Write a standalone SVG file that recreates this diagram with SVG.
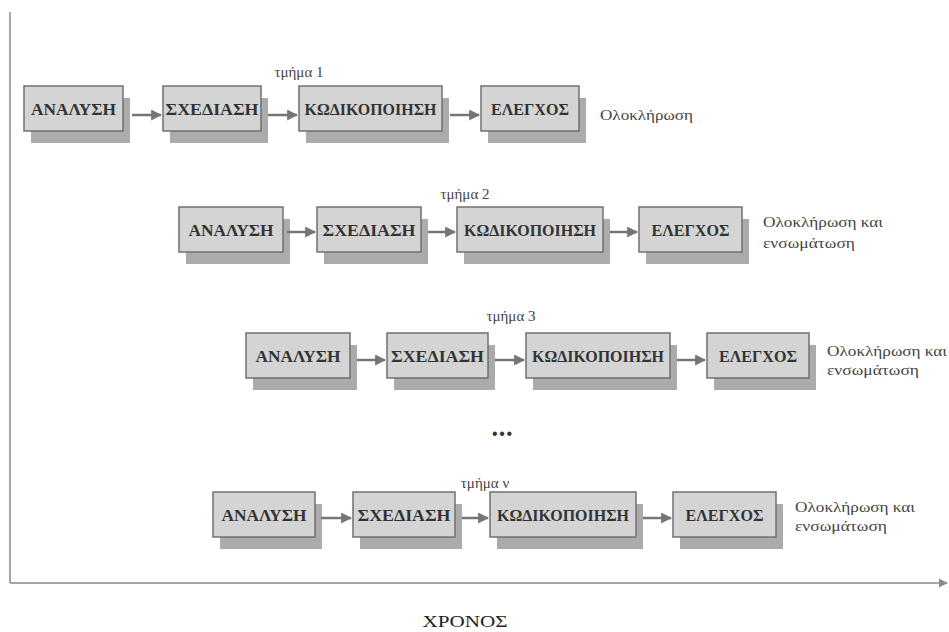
<svg xmlns="http://www.w3.org/2000/svg" width="949" height="632" viewBox="0 0 949 632">
  <style>
    .shadow { fill: #ababab; }
    .box { fill: #d4d4d4; stroke: #707070; stroke-width: 1.5; }
    .lbl { font-family: "Liberation Serif", "Times New Roman", serif; font-weight: bold; font-size: 16px; fill: #333; text-anchor: middle; }
    .note { font-family: "Liberation Serif", "Times New Roman", serif; font-size: 15px; fill: #444; }
    .part { font-family: "Liberation Serif", "Times New Roman", serif; font-size: 15px; fill: #444; text-anchor: middle; }
    .arrow { stroke: #757575; stroke-width: 2.5; fill: none; marker-end: url(#head); }
    .axis { stroke: #8a8a8a; stroke-width: 1.5; fill: none; }
  </style>
  <defs>
    <marker id="head" viewBox="0 0 10 10" refX="9" refY="5" markerWidth="4.4" markerHeight="4.4" orient="auto" markerUnits="strokeWidth">
      <path d="M0,0 L10,5 L0,10 z" fill="#757575"/>
    </marker>
    <marker id="axhead" viewBox="0 0 10 10" refX="9" refY="5" markerWidth="6" markerHeight="6" orient="auto" markerUnits="strokeWidth">
      <path d="M0,0 L10,5 L0,10 z" fill="#8a8a8a"/>
    </marker>
  </defs>

  <rect width="949" height="632" fill="#ffffff"/>

  <!-- time axes -->
  <g id="axes">
    <line class="axis" x1="10" y1="12" x2="10" y2="583"/>
    <line class="axis" x1="10" y1="583" x2="947" y2="583" marker-end="url(#axhead)"/>
    <text x="465" y="627" font-family="Liberation Serif, Times New Roman, serif" font-size="17" fill="#222" text-anchor="middle" textLength="85" lengthAdjust="spacingAndGlyphs">ΧΡΟΝΟΣ</text>
  </g>

  <!-- part 1 -->
  <g id="part1">
    <text class="part" x="299" y="77">τμήμα 1</text>
    <g id="p1-analysis">
      <rect class="shadow" x="31" y="98" width="99" height="45"/>
      <rect class="box" x="24" y="86" width="99" height="45"/>
      <text class="lbl" x="73.5" y="115" textLength="85" lengthAdjust="spacingAndGlyphs">ΑΝΑΛΥΣΗ</text>
    </g>
    <g id="p1-design">
      <rect class="shadow" x="170" y="98" width="98" height="45"/>
      <rect class="box" x="163" y="86" width="98" height="45"/>
      <text class="lbl" x="212" y="115" textLength="93" lengthAdjust="spacingAndGlyphs">ΣΧΕΔΙΑΣΗ</text>
    </g>
    <g id="p1-coding">
      <rect class="shadow" x="306" y="98" width="143" height="45"/>
      <rect class="box" x="299" y="86" width="143" height="45"/>
      <text class="lbl" x="370.5" y="115" textLength="132" lengthAdjust="spacingAndGlyphs">ΚΩΔΙΚΟΠΟΙΗΣΗ</text>
    </g>
    <g id="p1-testing">
      <rect class="shadow" x="488" y="98" width="98" height="45"/>
      <rect class="box" x="481" y="86" width="98" height="45"/>
      <text class="lbl" x="530" y="115" textLength="78" lengthAdjust="spacingAndGlyphs">ΕΛΕΓΧΟΣ</text>
    </g>
    <text class="note" x="600" y="120" textLength="93" lengthAdjust="spacingAndGlyphs">Ολοκλήρωση</text>
  </g>

  <!-- part 2 -->
  <g id="part2">
    <text class="part" x="465" y="199">τμήμα 2</text>
    <g id="p2-analysis">
      <rect class="shadow" x="186" y="219" width="104" height="45"/>
      <rect class="box" x="179" y="207" width="104" height="45"/>
      <text class="lbl" x="231" y="236" textLength="85" lengthAdjust="spacingAndGlyphs">ΑΝΑΛΥΣΗ</text>
    </g>
    <g id="p2-design">
      <rect class="shadow" x="324" y="219" width="104" height="45"/>
      <rect class="box" x="317" y="207" width="104" height="45"/>
      <text class="lbl" x="369" y="236" textLength="93" lengthAdjust="spacingAndGlyphs">ΣΧΕΔΙΑΣΗ</text>
    </g>
    <g id="p2-coding">
      <rect class="shadow" x="464" y="219" width="146" height="45"/>
      <rect class="box" x="457" y="207" width="146" height="45"/>
      <text class="lbl" x="530" y="236" textLength="132" lengthAdjust="spacingAndGlyphs">ΚΩΔΙΚΟΠΟΙΗΣΗ</text>
    </g>
    <g id="p2-testing">
      <rect class="shadow" x="646" y="219" width="103" height="45"/>
      <rect class="box" x="639" y="207" width="103" height="45"/>
      <text class="lbl" x="690.5" y="236" textLength="78" lengthAdjust="spacingAndGlyphs">ΕΛΕΓΧΟΣ</text>
    </g>
    <text class="note" x="763" y="227" textLength="120" lengthAdjust="spacingAndGlyphs">Ολοκλήρωση και</text>
    <text class="note" x="763" y="248" textLength="92" lengthAdjust="spacingAndGlyphs">ενσωμάτωση</text>
  </g>

  <!-- part 3 -->
  <g id="part3">
    <text class="part" x="511" y="321">τμήμα 3</text>
    <g id="p3-analysis">
      <rect class="shadow" x="253" y="345" width="104" height="45"/>
      <rect class="box" x="246" y="333" width="104" height="45"/>
      <text class="lbl" x="298" y="362" textLength="85" lengthAdjust="spacingAndGlyphs">ΑΝΑΛΥΣΗ</text>
    </g>
    <g id="p3-design">
      <rect class="shadow" x="394" y="345" width="101" height="45"/>
      <rect class="box" x="387" y="333" width="101" height="45"/>
      <text class="lbl" x="437.5" y="362" textLength="93" lengthAdjust="spacingAndGlyphs">ΣΧΕΔΙΑΣΗ</text>
    </g>
    <g id="p3-coding">
      <rect class="shadow" x="533" y="345" width="144" height="45"/>
      <rect class="box" x="526" y="333" width="144" height="45"/>
      <text class="lbl" x="598" y="362" textLength="132" lengthAdjust="spacingAndGlyphs">ΚΩΔΙΚΟΠΟΙΗΣΗ</text>
    </g>
    <g id="p3-testing">
      <rect class="shadow" x="714" y="345" width="102" height="45"/>
      <rect class="box" x="707" y="333" width="102" height="45"/>
      <text class="lbl" x="758" y="362" textLength="78" lengthAdjust="spacingAndGlyphs">ΕΛΕΓΧΟΣ</text>
    </g>
    <text class="note" x="827" y="356" textLength="120" lengthAdjust="spacingAndGlyphs">Ολοκλήρωση και</text>
    <text class="note" x="827" y="375" textLength="92" lengthAdjust="spacingAndGlyphs">ενσωμάτωση</text>
  </g>

  <text id="ellipsis" x="502" y="439" font-family="Liberation Sans, Arial, sans-serif" font-size="16" fill="#333" text-anchor="middle" textLength="20" lengthAdjust="spacing">•••</text>

  <!-- part n -->
  <g id="partN">
    <text class="part" x="485" y="488">τμήμα ν</text>
    <g id="pN-analysis">
      <rect class="shadow" x="220" y="504" width="102" height="45"/>
      <rect class="box" x="213" y="492" width="102" height="45"/>
      <text class="lbl" x="264" y="521" textLength="85" lengthAdjust="spacingAndGlyphs">ΑΝΑΛΥΣΗ</text>
    </g>
    <g id="pN-design">
      <rect class="shadow" x="360" y="504" width="102" height="45"/>
      <rect class="box" x="353" y="492" width="102" height="45"/>
      <text class="lbl" x="404" y="521" textLength="93" lengthAdjust="spacingAndGlyphs">ΣΧΕΔΙΑΣΗ</text>
    </g>
    <g id="pN-coding">
      <rect class="shadow" x="497" y="504" width="146" height="45"/>
      <rect class="box" x="490" y="492" width="146" height="45"/>
      <text class="lbl" x="563" y="521" textLength="132" lengthAdjust="spacingAndGlyphs">ΚΩΔΙΚΟΠΟΙΗΣΗ</text>
    </g>
    <g id="pN-testing">
      <rect class="shadow" x="680" y="504" width="103" height="45"/>
      <rect class="box" x="673" y="492" width="103" height="45"/>
      <text class="lbl" x="724.5" y="521" textLength="78" lengthAdjust="spacingAndGlyphs">ΕΛΕΓΧΟΣ</text>
    </g>
    <text class="note" x="795" y="512" textLength="120" lengthAdjust="spacingAndGlyphs">Ολοκλήρωση και</text>
    <text class="note" x="795" y="531" textLength="92" lengthAdjust="spacingAndGlyphs">ενσωμάτωση</text>
  </g>

  <!-- connectors -->
  <g id="connectors">
    <line class="arrow" x1="132" y1="115" x2="161" y2="115"/>
    <line class="arrow" x1="268" y1="115" x2="297" y2="115"/>
    <line class="arrow" x1="450" y1="115" x2="479" y2="115"/>

    <line class="arrow" x1="287" y1="232" x2="315" y2="232"/>
    <line class="arrow" x1="428" y1="232" x2="455" y2="232"/>
    <line class="arrow" x1="610" y1="232" x2="637" y2="232"/>

    <line class="arrow" x1="357" y1="360" x2="385" y2="360"/>
    <line class="arrow" x1="495" y1="360" x2="524" y2="360"/>
    <line class="arrow" x1="677" y1="360" x2="705" y2="360"/>

    <line class="arrow" x1="321" y1="518" x2="351" y2="518"/>
    <line class="arrow" x1="462" y1="518" x2="488" y2="518"/>
    <line class="arrow" x1="643" y1="518" x2="671" y2="518"/>
  </g>
</svg>
